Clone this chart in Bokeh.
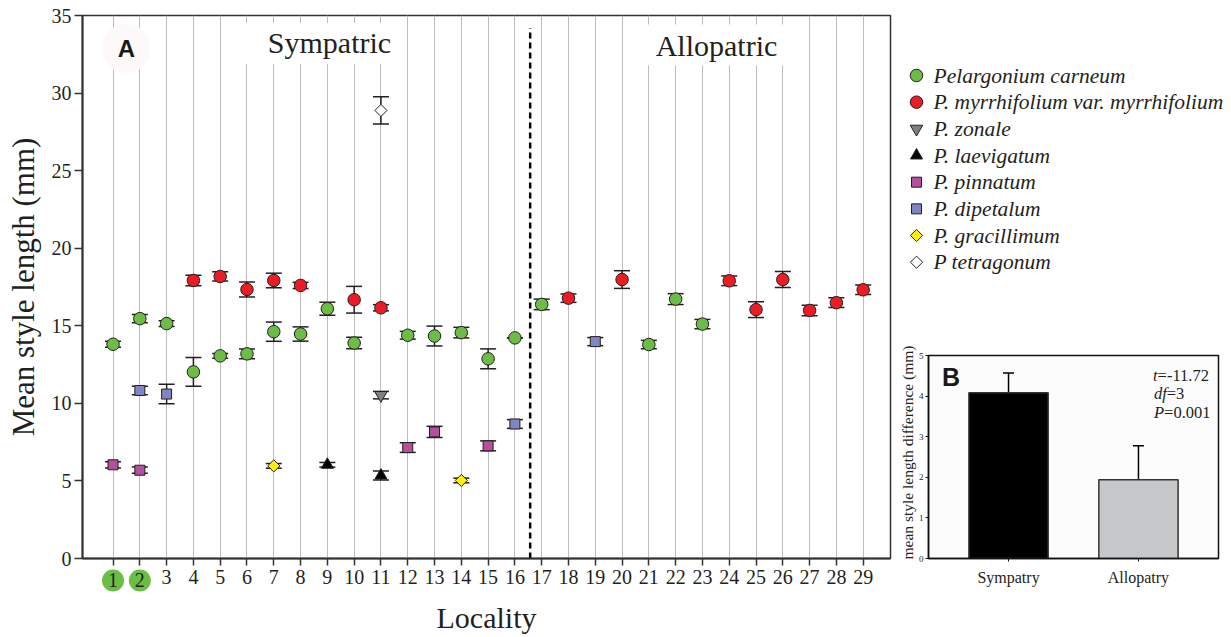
from bokeh.plotting import figure
from bokeh.models import (ColumnDataSource, Range1d, FixedTicker, Whisker, TeeHead, Label)
from bokeh.layouts import row, column
from bokeh.embed import file_html
from bokeh.resources import INLINE
from bokeh.core.properties import value
import math

# ---------------- data ----------------
localities = list(range(1, 30))
y_ticks = [0, 5, 10, 15, 20, 25, 30, 35]
highlighted_localities = [1, 2]

carneum_loc = [1, 2, 3, 4, 5, 6, 7, 8, 9, 10, 12, 13, 14, 15, 16, 17, 21, 22, 23]
carneum_mean = [13.81, 15.46, 15.14, 12.03, 13.06, 13.19, 14.62, 14.47, 16.10, 13.89,
                14.39, 14.34, 14.56, 12.87, 14.22, 16.38, 13.79, 16.72, 15.11]
carneum_err = [0.20, 0.27, 0.18, 0.92, 0.15, 0.32, 0.62, 0.46, 0.42, 0.37,
               0.25, 0.64, 0.34, 0.64, 0.0, 0.34, 0.27, 0.35, 0.30]

myrrh_loc = [4, 5, 6, 7, 8, 10, 11, 18, 20, 24, 25, 26, 27, 28, 29]
myrrh_mean = [17.92, 18.18, 17.34, 17.92, 17.60, 16.68, 16.16, 16.78, 17.98, 17.90,
              16.04, 17.98, 15.99, 16.49, 17.32]
myrrh_err = [0.34, 0.30, 0.48, 0.47, 0.20, 0.86, 0.20, 0.27, 0.57, 0.31,
             0.51, 0.52, 0.34, 0.31, 0.31]

zonale_loc = [11]
zonale_mean = [10.53]
zonale_err = [0.24]

laevigatum_loc = [9, 11]
laevigatum_mean = [6.04, 5.35]
laevigatum_err = [0.15, 0.29]

pinnatum_loc = [1, 2, 12, 13, 15]
pinnatum_mean = [6.04, 5.69, 7.15, 8.16, 7.26]
pinnatum_err = [0.20, 0.20, 0.31, 0.36, 0.32]

dipetalum_loc = [2, 3, 16, 19]
dipetalum_mean = [10.83, 10.60, 8.67, 13.98]
dipetalum_err = [0.27, 0.63, 0.28, 0.26]

gracillimum_loc = [7, 14]
gracillimum_mean = [5.97, 5.03]
gracillimum_err = [0.15, 0.15]

tetragonum_loc = [11]
tetragonum_mean = [28.88]
tetragonum_err = [0.88]

species_labels = ["Pelargonium carneum", "P. myrrhifolium var. myrrhifolium", "P. zonale",
                  "P. laevigatum", "P. pinnatum", "P. dipetalum", "P. gracillimum",
                  "P tetragonum"]

inset_categories = ["Sympatry", "Allopatry"]
inset_mean = [4.08, 1.94]
inset_err = [0.49, 0.84]
inset_ticks = [0, 1, 2, 3, 4, 5]

# ---------------- styles ----------------
series = [
    (carneum_loc, carneum_mean, carneum_err, "circle", "#6bbd45", 12.5, 0.0),
    (myrrh_loc, myrrh_mean, myrrh_err, "circle", "#ec1c24", 12.5, 0.0),
    (zonale_loc, zonale_mean, zonale_err, "inverted_triangle", "#808080", 12.5, 0.0),
    (laevigatum_loc, laevigatum_mean, laevigatum_err, "triangle", "#000000", 12.0, 0.0),
    (pinnatum_loc, pinnatum_mean, pinnatum_err, "square", "#b54f9e", 10.0, 0.0),
    (dipetalum_loc, dipetalum_mean, dipetalum_err, "square", "#8185c4", 10.0, 0.0),
    (gracillimum_loc, gracillimum_mean, gracillimum_err, "square", "#fff200", 8.6, math.pi / 4),
    (tetragonum_loc, tetragonum_mean, tetragonum_err, "square", "#ffffff", 8.6, math.pi / 4),
]
INK = "#231f20"
SERIF = "Liberation Serif"
SANS = "Liberation Sans"
PAGE_H = 636
Y_MIN, Y_MAX = 0, 35
FRAME_TOP, FRAME_BOTTOM = 15, 560

# ---------------- main plot (A) ----------------
p = figure(width=893, height=PAGE_H, x_range=Range1d(-0.14, 30.02),
           y_range=Range1d(Y_MIN, Y_MAX),
           output_backend="svg", toolbar_location=None,
           min_border_left=82, min_border_right=3, min_border_top=FRAME_TOP,
           min_border_bottom=PAGE_H - FRAME_BOTTOM)
p.outline_line_color = "#333333"
p.outline_line_width = 1.5
p.background_fill_color = "white"
p.border_fill_color = "white"

p.ygrid.visible = False
p.xgrid.ticker = FixedTicker(ticks=localities)
p.xgrid.grid_line_color = "#bdbdbd"
p.xgrid.grid_line_width = 1

xa = p.xaxis[0]
xa.ticker = FixedTicker(ticks=localities)
xa.major_label_overrides = {k: "" for k in highlighted_localities}
xa.minor_tick_out = 0
xa.minor_tick_in = 0
xa.major_tick_in = 0
xa.major_tick_out = 7
xa.major_tick_line_width = 1.5
xa.major_tick_line_color = "#333333"
xa.axis_line_width = 2
xa.axis_line_color = "#333333"
xa.major_label_text_font = SERIF
xa.major_label_text_font_size = "20px"
xa.major_label_text_color = INK
xa.major_label_standoff = 4
xa.axis_label = "Locality"
xa.axis_label_text_font = SERIF
xa.axis_label_text_font_size = "30px"
xa.axis_label_text_font_style = "normal"
xa.axis_label_text_color = INK
xa.axis_label_standoff = 14

ya = p.yaxis[0]
ya.ticker = FixedTicker(ticks=y_ticks)
ya.minor_tick_out = 0
ya.minor_tick_in = 0
ya.major_tick_in = 0
ya.major_tick_out = 8
ya.major_tick_line_width = 1.5
ya.major_tick_line_color = "#333333"
ya.axis_line_width = 2
ya.axis_line_color = "#333333"
ya.major_label_text_font = SERIF
ya.major_label_text_font_size = "20px"
ya.major_label_text_color = INK
ya.major_label_standoff = 3
ya.axis_label = "Mean style length (mm)"
ya.axis_label_text_font = SERIF
ya.axis_label_text_font_size = "31px"
ya.axis_label_text_font_style = "normal"
ya.axis_label_text_color = INK
ya.axis_label_standoff = 8

# divider between sympatric and allopatric localities
divider_x = 16.57
p.segment(x0=[divider_x], y0=[Y_MIN], x1=[divider_x], y1=[34.2], line_color="#000000",
          line_width=2.5, line_dash="6 4")

# error bars then markers
for loc, mean, err, marker, color, size, angle in series:
    src = ColumnDataSource(dict(
        x=loc, y=mean,
        upper=[m + e for m, e in zip(mean, err)],
        lower=[m - e for m, e in zip(mean, err)],
    ))
    w = Whisker(base="x", upper="upper", lower="lower", source=src, dimension="height",
                line_color=INK, line_width=1.5, level="underlay",
                upper_head=TeeHead(size=16, line_width=1.5, line_color=INK),
                lower_head=TeeHead(size=16, line_width=1.5, line_color=INK))
    p.add_layout(w)
for loc, mean, err, marker, color, size, angle in series:
    src = ColumnDataSource(dict(x=loc, y=mean))
    p.scatter(x="x", y="y", source=src, marker=marker, size=size, angle=angle,
              fill_color=color, line_color=INK, line_width=1)

# region titles with white backgrounds
p.add_layout(Label(x=241, y=33.2, x_units="screen", y_units="data", text="Sympatric",
                   text_font=SERIF, text_font_size="30px", text_color=INK,
                   text_align="center", text_baseline="middle",
                   background_fill_color="white",
                   padding=dict(left=24, right=12, top=3, bottom=5)))
p.add_layout(Label(x=634, y=33.1, x_units="screen", y_units="data", text="Allopatric",
                   text_font=SERIF, text_font_size="30px", text_color=INK,
                   text_align="center", text_baseline="middle",
                   background_fill_color="white",
                   padding=dict(left=14, right=14, top=5, bottom=3)))
# panel letter A
p.add_layout(Label(x=44, y=32.88, x_units="screen", y_units="data", text="A",
                   text_font=SANS, text_font_style="bold", text_font_size="24px",
                   text_color="#1a1a1a", text_align="center", text_baseline="middle",
                   background_fill_color="#fdf9f9", border_radius=23,
                   padding=dict(left=15, right=15, top=11, bottom=11)))

# highlighted locality numbers (green discs behind tick labels 1 and 2)
px_per_unit = (FRAME_BOTTOM - FRAME_TOP) / (Y_MAX - Y_MIN)
label_y = Y_MIN - 22 / px_per_unit
hsrc = ColumnDataSource(dict(x=highlighted_localities,
                             y=[label_y] * len(highlighted_localities),
                             t=[str(k) for k in highlighted_localities]))
p.scatter(x="x", y="y", source=hsrc, marker="circle", size=22, fill_color="#6bbd45",
          line_color=None, level="overlay")
p.text(x="x", y="y", text="t", source=hsrc, text_font=value(SERIF), text_font_size="20px",
       text_color=INK, text_align="center", text_baseline="middle", level="overlay")

# ---------------- legend panel ----------------
RIGHT_W = 338
LEG_H = 340
ROW_PX, FIRST_ROW_Y = 26.67, 75
leg = figure(width=RIGHT_W, height=LEG_H, x_range=Range1d(0, RIGHT_W),
             y_range=Range1d((LEG_H - FIRST_ROW_Y) / ROW_PX, -FIRST_ROW_Y / ROW_PX),
             output_backend="svg", toolbar_location=None, min_border=0,
             min_border_left=0, min_border_right=0, min_border_top=0, min_border_bottom=0,
             x_axis_location=None, y_axis_location=None)
leg.outline_line_color = None
leg.grid.visible = False
leg_src = ColumnDataSource(dict(
    idx=list(range(len(species_labels))),
    label=species_labels,
    marker=[s[3] for s in series],
    color=[s[4] for s in series],
    size=[s[5] for s in series],
    angle=[s[6] for s in series],
    mx=[23] * len(species_labels),
    tx=[40] * len(species_labels),
))
leg.scatter(x="mx", y="idx", source=leg_src, marker="marker", size="size", angle="angle",
            fill_color="color", line_color=INK, line_width=1, level="overlay")
leg.text(x="tx", y="idx", text="label", source=leg_src, text_font=value(SERIF),
         text_font_style="italic", text_font_size="21.5px", text_color=INK,
         text_baseline="middle", text_align="left", level="overlay")

# ---------------- inset (B) ----------------
IN_LEFT, IN_RIGHT, IN_TOP, IN_BOTTOM = 35, 13, 355, 558
INSET_H = PAGE_H - LEG_H
cat_pos = [i + 0.5 for i in range(len(inset_categories))]
pad = 0.116
pb = figure(width=RIGHT_W, height=INSET_H,
            x_range=Range1d(-pad, len(inset_categories) + pad),
            y_range=Range1d(0, 5), output_backend="svg", toolbar_location=None,
            min_border_left=IN_LEFT, min_border_right=IN_RIGHT,
            min_border_top=IN_TOP - LEG_H, min_border_bottom=PAGE_H - IN_BOTTOM)
pb.outline_line_color = "#111111"
pb.outline_line_width = 1.5
pb.background_fill_color = "#fcfcfc"
pb.border_fill_color = "white"
pb.grid.visible = False
pb.extra_x_ranges = {"px": Range1d(IN_LEFT, RIGHT_W - IN_RIGHT)}

bsrc = ColumnDataSource(dict(
    x=cat_pos, top=inset_mean,
    upper=[m + e for m, e in zip(inset_mean, inset_err)],
    color=["#000000", "#c6c7c9"],
))
pb.add_layout(Whisker(base="x", upper="upper", lower="top", source=bsrc, dimension="height",
                      line_color="#000000", line_width=1.5, level="underlay",
                      upper_head=TeeHead(size=11, line_width=1.5, line_color="#000000"),
                      lower_head=None))
pb.vbar(x="x", top="top", width=0.61, source=bsrc, fill_color="color",
        line_color="#333333", line_width=1.5)

bx = pb.xaxis[0]
bx.ticker = FixedTicker(ticks=cat_pos)
bx.major_label_overrides = {pos: name for pos, name in zip(cat_pos, inset_categories)}
bx.minor_tick_out = 0
bx.minor_tick_in = 0
bx.major_tick_out = 3
bx.major_tick_in = 0
bx.major_tick_line_color = "#111111"
bx.axis_line_width = 1.5
bx.axis_line_color = "#111111"
bx.major_label_text_font = SERIF
bx.major_label_text_font_size = "16px"
bx.major_label_text_color = INK
bx.major_label_standoff = 7
by = pb.yaxis[0]
by.ticker = FixedTicker(ticks=inset_ticks)
by.minor_tick_out = 0
by.minor_tick_in = 0
by.major_tick_in = 0
by.major_tick_out = 3
by.major_tick_line_color = "#111111"
by.axis_line_width = 1.5
by.axis_line_color = "#111111"
by.major_label_text_font = SERIF
by.major_label_text_font_size = "9px"
by.major_label_text_color = INK
by.major_label_standoff = 2

# inset y-axis title (drawn as text so the frame keeps its place)
pb.text(x=[14], y=[2.61], text=["mean style length difference (mm)"], angle=math.pi / 2,
        text_font=value(SERIF), text_font_size="15.5px", text_color=INK,
        text_align="center", text_baseline="middle", x_range_name="px", level="overlay")

pb.add_layout(Label(x=13.5, y=4.48, x_units="screen", y_units="data", text="B",
                    text_font=SANS, text_font_style="bold", text_font_size="25px",
                    text_color="#1a1a1a", text_align="left", text_baseline="middle"))
stat_rows = [("t", "=-11.72", 4.51, 4.6), ("df", "=3", 4.06, 12.8), ("P", "=0.001", 3.60, 10.1)]
for ital, rest, yy, wd in stat_rows:
    x0 = 224.5 if ital == "t" else 225.5
    pb.add_layout(Label(x=x0, y=yy, x_units="screen", y_units="data", text=ital,
                        text_font=SERIF, text_font_style="italic", text_font_size="16.5px",
                        text_color=INK, text_align="left", text_baseline="middle"))
    pb.add_layout(Label(x=x0 + wd, y=yy, x_units="screen", y_units="data", text=rest,
                        text_font=SERIF, text_font_size="16.5px",
                        text_color=INK, text_align="left", text_baseline="middle"))

layout = row(p, column(leg, row(pb)))
open("out.html", "w").write(file_html(layout, INLINE))
